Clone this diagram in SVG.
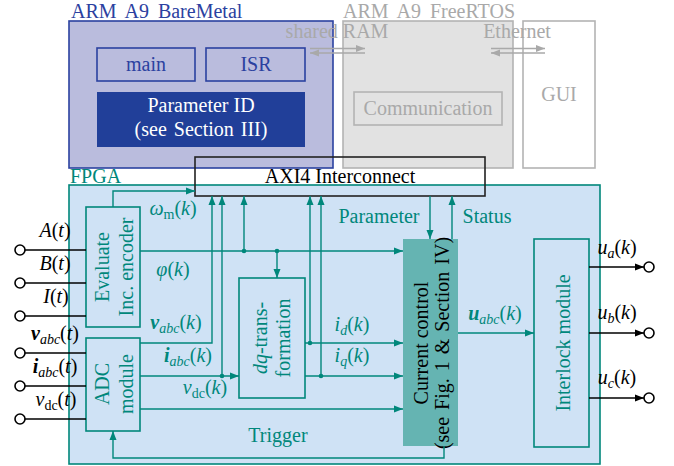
<svg xmlns="http://www.w3.org/2000/svg" width="674" height="466" viewBox="0 0 674 466" font-family="'Liberation Serif','Times New Roman',Tinos,Times,'DejaVu Serif',serif">
<style>
text{font-family:'Liberation Serif','Times New Roman',Tinos,Times,'DejaVu Serif',serif;font-size:20px}
.it{font-style:italic}
.bi{font-style:italic;font-weight:bold}
.sub{font-size:14px}
.tl{fill:#00877b}
.gr{fill:#a9a9a9}
.bl{fill:#2b41a0}
.k{fill:#000}
.tbox{fill:none;stroke:#00877b;stroke-width:1.6}
.tc{fill:none;stroke:#00877b;stroke-width:1.4}
.bc{fill:none;stroke:#000;stroke-width:1.5}
.gc{fill:none;stroke:#a9a9a9;stroke-width:1.4}
.dot{fill:#00877b}
.term{fill:#fff;stroke:#000;stroke-width:1.6}
</style>
<defs>
<marker id="at" markerUnits="userSpaceOnUse" markerWidth="10" markerHeight="8" refX="9" refY="4" orient="auto"><path d="M0,0.5 L9,4 L0,7.5 Z" fill="#00877b"/></marker>
<marker id="ak" markerUnits="userSpaceOnUse" markerWidth="10" markerHeight="8" refX="9" refY="4" orient="auto"><path d="M0,0.5 L9,4 L0,7.5 Z" fill="#000"/></marker>
<marker id="ag" markerUnits="userSpaceOnUse" markerWidth="10" markerHeight="8" refX="9" refY="4" orient="auto"><path d="M0,0.5 L9,4 L0,7.5 Z" fill="#a9a9a9"/></marker>
</defs>

<g id="fpga">
<rect x="69" y="185" width="531" height="279" fill="#cfe2f5" stroke="#00877b" stroke-width="1.6"/>
<text x="70" y="183" class="tl">FPGA</text>
</g>

<g id="baremetal">
<rect x="69" y="21" width="264" height="147" fill="#babcdd" stroke="#2b41a0" stroke-width="1.6"/>
<text x="71" y="18" class="bl" word-spacing="4">ARM A9 BareMetal</text>
</g>
<g id="main">
<rect x="97" y="48" width="98" height="33" fill="none" stroke="#2b41a0" stroke-width="1.6"/>
<text x="146" y="71" text-anchor="middle" class="bl">main</text>
</g>
<g id="isr">
<rect x="206" y="48" width="99" height="33" fill="none" stroke="#2b41a0" stroke-width="1.6"/>
<text x="256" y="71" text-anchor="middle" class="bl">ISR</text>
</g>
<g id="paramid">
<rect x="97" y="92" width="208" height="55" fill="#213f99"/>
<text x="201" y="112" text-anchor="middle" fill="#fff">Parameter ID</text>
<text x="201" y="136" text-anchor="middle" fill="#fff" font-size="17.5" word-spacing="2">(see Section III)</text>
</g>

<g id="freertos">
<rect x="343" y="21" width="170" height="147" fill="#e2e2e2" stroke="#b3b3b3" stroke-width="1.6"/>
<text x="343" y="18" class="gr" word-spacing="4">ARM A9 FreeRTOS</text>
</g>
<g id="communication">
<rect x="354" y="92" width="148" height="33" fill="none" stroke="#b3b3b3" stroke-width="1.6"/>
<text x="428" y="115" text-anchor="middle" class="gr">Communication</text>
</g>
<g id="gui">
<rect x="523" y="21" width="72" height="147" fill="#fff" stroke="#b3b3b3" stroke-width="1.6"/>
<text x="559" y="101" text-anchor="middle" class="gr">GUI</text>
</g>

<g id="axi">
<rect x="195" y="157" width="290" height="39" fill="none" stroke="#222" stroke-width="1.6"/>
<text x="340" y="183" text-anchor="middle" class="k">AXI4 Interconnect</text>
</g>

<g id="encoder">
<rect x="86" y="207" width="54" height="120" class="tbox"/>
<text transform="translate(109,267) rotate(-90)" text-anchor="middle" class="tl">Evaluate</text>
<text transform="translate(133,267) rotate(-90)" text-anchor="middle" class="tl">Inc. encoder</text>
</g>
<g id="adc">
<rect x="86" y="338" width="54" height="93" class="tbox"/>
<text transform="translate(109,384) rotate(-90)" text-anchor="middle" class="tl">ADC</text>
<text transform="translate(133,384) rotate(-90)" text-anchor="middle" class="tl">module</text>
</g>
<g id="dq">
<rect x="239" y="278" width="66" height="120" class="tbox"/>
<text transform="translate(267,338) rotate(-90)" text-anchor="middle" class="tl"><tspan class="it">dq</tspan>-trans-</text>
<text transform="translate(290,338) rotate(-90)" text-anchor="middle" class="tl">formation</text>
</g>
<g id="current">
<rect x="403" y="239" width="55" height="207" fill="#65b4b2"/>
<text transform="translate(428,343) rotate(-90)" text-anchor="middle" class="k">Current control</text>
<text transform="translate(449,343) rotate(-90)" text-anchor="middle" class="k" font-size="18" word-spacing="2">(see Fig. 1 &amp; Section IV)</text>
</g>
<g id="interlock">
<rect x="534" y="239" width="55" height="208" class="tbox"/>
<text transform="translate(570,343) rotate(-90)" text-anchor="middle" class="tl">Interlock module</text>
</g>

<g id="connectors">
<path class="gc" d="M310,48.5 H365" marker-end="url(#ag)"/>
<path class="gc" d="M365,53 H310" marker-end="url(#ag)"/>
<path class="gc" d="M491,48.5 H545" marker-end="url(#ag)"/>
<path class="gc" d="M545,53 H491" marker-end="url(#ag)"/>

<path class="bc" d="M25,250 H86"/>
<path class="bc" d="M25,283 H86"/>
<path class="bc" d="M25,316 H86"/>
<path class="bc" d="M25,353 H86"/>
<path class="bc" d="M25,386 H86"/>
<path class="bc" d="M25,419 H86"/>
<circle class="term" cx="20" cy="250" r="5"/>
<circle class="term" cx="20" cy="283" r="5"/>
<circle class="term" cx="20" cy="316" r="5"/>
<circle class="term" cx="20" cy="353" r="5"/>
<circle class="term" cx="20" cy="386" r="5"/>
<circle class="term" cx="20" cy="419" r="5"/>

<path class="tc" d="M113,207 V191 H195" marker-end="url(#at)"/>
<path class="tc" d="M140,251 H403" marker-end="url(#at)"/>
<path class="tc" d="M244,251 V196" marker-end="url(#at)"/>
<path class="tc" d="M277,251 V278" marker-end="url(#at)"/>
<path class="tc" d="M140,343 H212 V196" marker-end="url(#at)"/>
<path class="tc" d="M140,376 H239" marker-end="url(#at)"/>
<path class="tc" d="M222,376 V196" marker-end="url(#at)"/>
<path class="tc" d="M140,409 H403" marker-end="url(#at)"/>
<path class="tc" d="M305,343 H403" marker-end="url(#at)"/>
<path class="tc" d="M310,343 V196" marker-end="url(#at)"/>
<path class="tc" d="M305,376 H403" marker-end="url(#at)"/>
<path class="tc" d="M321,376 V196" marker-end="url(#at)"/>
<path class="tc" d="M430,196 V239" marker-end="url(#at)"/>
<path class="tc" d="M452,239 V196" marker-end="url(#at)"/>
<path class="tc" d="M444,446 V458 H113 V431" marker-end="url(#at)"/>
<path class="tc" d="M458,333 H534" marker-end="url(#at)"/>
<circle class="dot" cx="244" cy="251" r="2.3"/>
<circle class="dot" cx="277" cy="251" r="2.3"/>
<circle class="dot" cx="222" cy="376" r="2.3"/>
<circle class="dot" cx="310" cy="343" r="2.3"/>
<circle class="dot" cx="321" cy="376" r="2.3"/>

<path class="bc" d="M589,267 H644" marker-end="url(#ak)"/>
<path class="bc" d="M589,333 H644" marker-end="url(#ak)"/>
<path class="bc" d="M589,398 H644" marker-end="url(#ak)"/>
<circle class="term" cx="649" cy="267" r="5"/>
<circle class="term" cx="649" cy="333" r="5"/>
<circle class="term" cx="649" cy="398" r="5"/>
</g>

<g id="labels">
<text x="337" y="38" text-anchor="middle" class="gr">shared RAM</text>
<text x="517" y="38" text-anchor="middle" class="gr">Ethernet</text>

<text x="55" y="237" text-anchor="middle" class="k"><tspan class="it">A</tspan>(<tspan class="it">t</tspan>)</text>
<text x="55" y="270" text-anchor="middle" class="k"><tspan class="it">B</tspan>(<tspan class="it">t</tspan>)</text>
<text x="56" y="303" text-anchor="middle" class="k"><tspan class="it">I</tspan>(<tspan class="it">t</tspan>)</text>
<text x="55" y="340" text-anchor="middle" class="k"><tspan class="bi">v</tspan><tspan class="sub it" dy="4">abc</tspan><tspan dy="-4">(</tspan><tspan class="it">t</tspan>)</text>
<text x="55" y="373" text-anchor="middle" class="k"><tspan class="bi">i</tspan><tspan class="sub it" dy="4">abc</tspan><tspan dy="-4">(</tspan><tspan class="it">t</tspan>)</text>
<text x="56" y="406" text-anchor="middle" class="k"><tspan class="it">v</tspan><tspan class="sub" dy="4">dc</tspan><tspan dy="-4">(</tspan><tspan class="it">t</tspan>)</text>

<text x="173" y="215" text-anchor="middle" class="tl"><tspan class="it">ω</tspan><tspan class="sub" dy="4">m</tspan><tspan dy="-4">(</tspan><tspan class="it">k</tspan>)</text>
<text x="173" y="276" text-anchor="middle" class="tl"><tspan class="it">φ</tspan>(<tspan class="it">k</tspan>)</text>
<text x="176" y="329" text-anchor="middle" class="tl"><tspan class="bi">v</tspan><tspan class="sub it" dy="4">abc</tspan><tspan dy="-4">(</tspan><tspan class="it">k</tspan>)</text>
<text x="188" y="362" text-anchor="middle" class="tl"><tspan class="bi">i</tspan><tspan class="sub it" dy="4">abc</tspan><tspan dy="-4">(</tspan><tspan class="it">k</tspan>)</text>
<text x="205" y="394" text-anchor="middle" class="tl"><tspan class="it">v</tspan><tspan class="sub" dy="4">dc</tspan><tspan dy="-4">(</tspan><tspan class="it">k</tspan>)</text>
<text x="379" y="223" text-anchor="middle" class="tl">Parameter</text>
<text x="487" y="223" text-anchor="middle" class="tl">Status</text>
<text x="352" y="331" text-anchor="middle" class="tl"><tspan class="it">i</tspan><tspan class="sub it" dy="4">d</tspan><tspan dy="-4">(</tspan><tspan class="it">k</tspan>)</text>
<text x="352" y="362" text-anchor="middle" class="tl"><tspan class="it">i</tspan><tspan class="sub it" dy="4">q</tspan><tspan dy="-4">(</tspan><tspan class="it">k</tspan>)</text>
<text x="278" y="442" text-anchor="middle" class="tl">Trigger</text>
<text x="495" y="320" text-anchor="middle" class="tl"><tspan class="bi">u</tspan><tspan class="sub it" dy="4">abc</tspan><tspan dy="-4">(</tspan><tspan class="it">k</tspan>)</text>

<text x="617" y="254" text-anchor="middle" class="k"><tspan class="it">u</tspan><tspan class="sub it" dy="4">a</tspan><tspan dy="-4">(</tspan><tspan class="it">k</tspan>)</text>
<text x="617" y="319" text-anchor="middle" class="k"><tspan class="it">u</tspan><tspan class="sub it" dy="4">b</tspan><tspan dy="-4">(</tspan><tspan class="it">k</tspan>)</text>
<text x="617" y="384" text-anchor="middle" class="k"><tspan class="it">u</tspan><tspan class="sub it" dy="4">c</tspan><tspan dy="-4">(</tspan><tspan class="it">k</tspan>)</text>
</g>
</svg>
